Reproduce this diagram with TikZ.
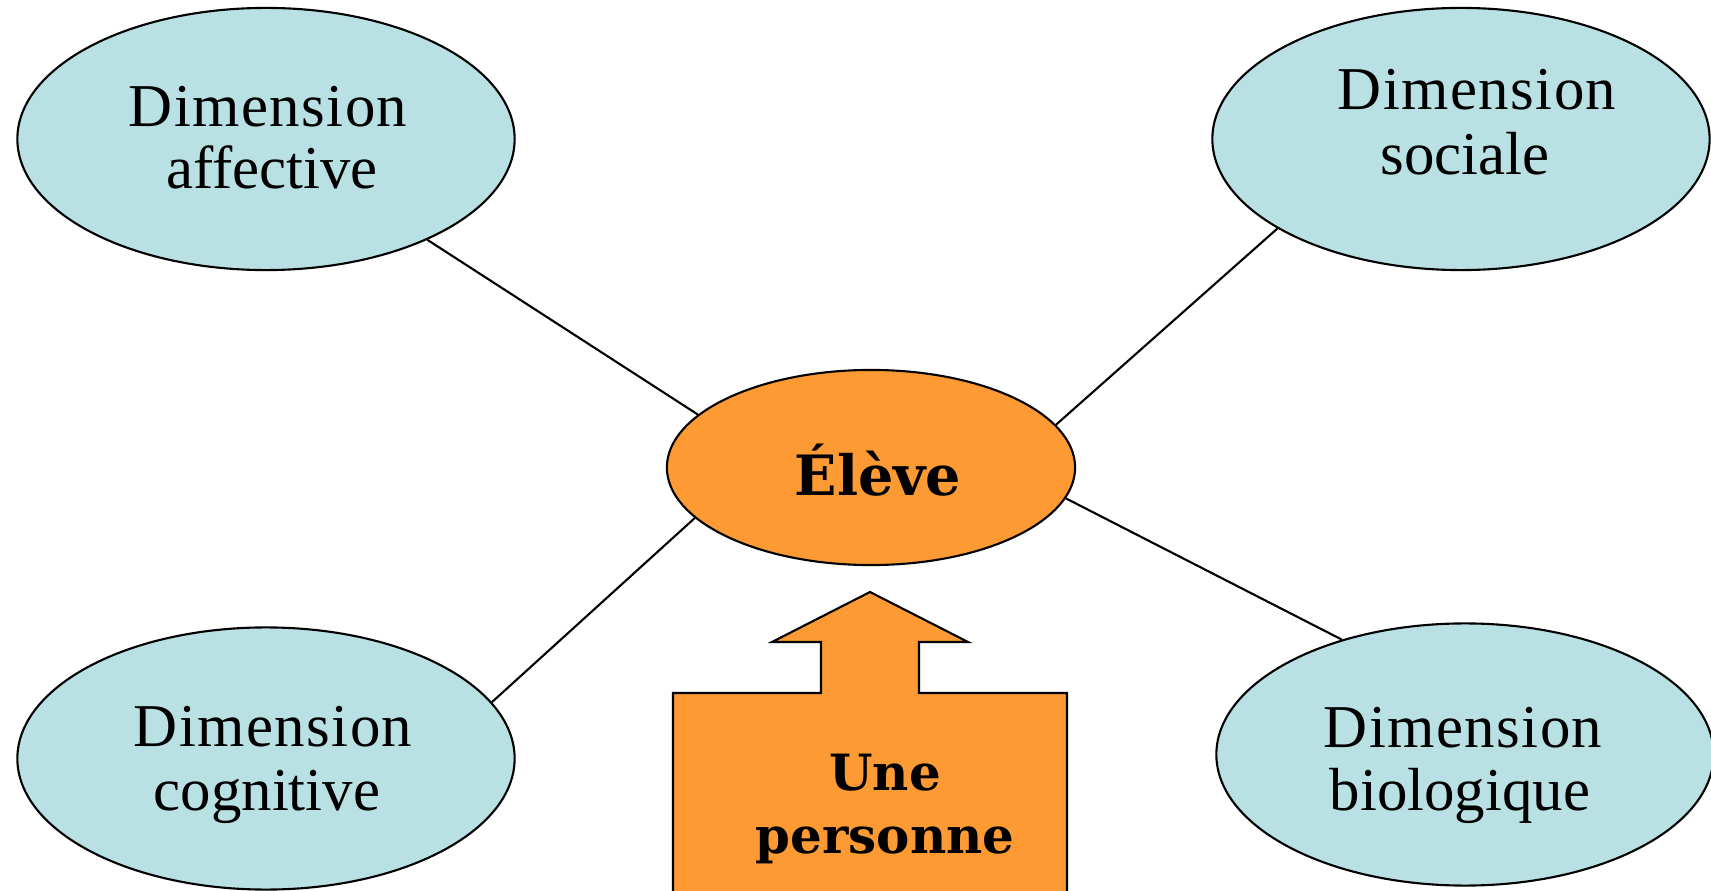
\documentclass[tikz,border=0pt]{standalone}
\usepackage{fontspec}
\setmainfont{Liberation Serif}
\newfontfamily\spacedserif[LetterSpace=2.4]{Liberation Serif}
\newfontfamily\boldserif{DejaVu Serif}
\usetikzlibrary{shapes.geometric}
\definecolor{dimblue}{RGB}{185,224,227}
\definecolor{eleveorange}{RGB}{253,154,52}
\tikzset{
  dimell/.style={ellipse, draw=black, line width=0.6pt, fill=dimblue, inner sep=0pt,
    minimum width=4.97cm, minimum height=2.62cm},
  elell/.style={ellipse, draw=black, line width=0.6pt, fill=eleveorange, inner sep=0pt,
    minimum width=4.08cm, minimum height=1.95cm},
  lbl/.style={anchor=base, inner sep=0pt, font=\fontsize{17.3}{20}\selectfont},
  dlbl/.style={anchor=base, inner sep=0pt, font=\spacedserif\fontsize{17.3}{20}\selectfont},
  blbl/.style={anchor=base, inner sep=0pt, font=\boldserif\bfseries\fontsize{14.2}{17}\selectfont},
  elbl/.style={anchor=base, inner sep=0pt, font=\boldserif\bfseries\fontsize{15.8}{19}\selectfont},
  link/.style={draw=black, line width=0.6pt},
  arrowshape/.style={draw=black, line width=0.6pt, fill=eleveorange}
}
\begin{document}
\begin{tikzpicture}[x=0.01cm,y=-0.01cm]
\useasboundingbox (0,0) rectangle (1711,891);
\clip (0,0) rectangle (1711,891);
\fill[white] (0,0) rectangle (1711,891);
% ellipses
\node[dimell] (aff) at (266,139) {};
\node[dimell] (soc) at (1461,139) {};
\node[dimell] (cog) at (266,758.5) {};
\node[dimell] (bio) at (1465,754.5) {};
\node[elell] (el) at (871,467.5) {};
% white patches over the bottom of the cognitive ellipse
\fill[white] (0,865) rectangle (107,891);
\fill[white] (425,865) rectangle (540,891);
% connectors
\draw[link] (aff.-32.4) -- (el.163.2);
\draw[link] (soc.206.2) -- (el.13.4);
\draw[link] (cog.14.7) -- (el.196.3);
\draw[link] (bio.137.3) -- (el.-9.9);
% arrow box
\draw[arrowshape] (870,592) -- (968,642) -- (919,642) -- (919,693) -- (1067,693)
  -- (1067,905) -- (673,905) -- (673,693) -- (821,693) -- (821,642) -- (772,642) -- cycle;
% labels
\node[dlbl] (aff1) at (268,127) {Dimension};
\node[lbl] (aff2) at (272,189) {affective};
\node[dlbl] (soc1) at (1477,110) {Dimension};
\node[lbl] (soc2) at (1465,175) {sociale};
\node[dlbl] (cog1) at (273,746) {Dimension};
\node[lbl] (cog2) at (267,810) {cognitive};
\node[dlbl] (bio1) at (1463,747) {Dimension};
\node[lbl] (bio2) at (1460,810) {biologique};
\node[elbl] (eltxt) at (878,495) {Élève};
\node[blbl] (une) at (885,790) {Une};
\node[blbl] (pers) at (885,853) {personne};
\end{tikzpicture}
\end{document}
